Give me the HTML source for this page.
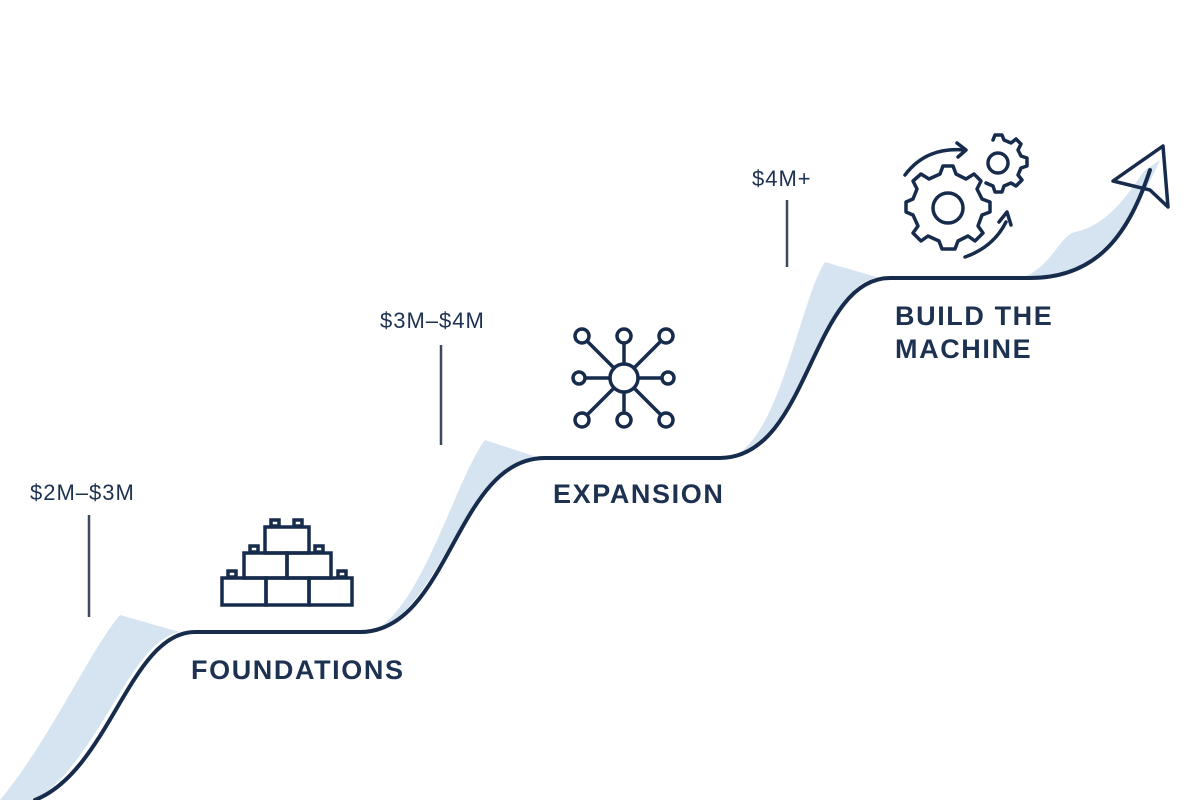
<!DOCTYPE html>
<html><head><meta charset="utf-8"><style>
html,body{margin:0;padding:0;background:#fff;}
svg{display:block}
text{font-family:"Liberation Sans",sans-serif;fill:#1d3150}
</style></head><body>
<svg width="1200" height="800" viewBox="0 0 1200 800" xmlns="http://www.w3.org/2000/svg">
<rect width="1200" height="800" fill="#fff"/>
<g fill="#d6e4f1">
<path d="M0,800 C50,740 90,650 120,615 L180,632 C130,640 100,760 35,800 Z"/>
<path d="M370,632 C420,615 455,480 485,440 L540,458 C460,458 440,632 360,632 Z"/>
<path d="M730,458 C780,440 800,300 825,262 L880,278 C820,278 800,458 720,458 Z"/>
<path d="M1020,278 C1050,270 1060,235 1075,232 C1110,225 1130,190 1145,170 L1160,160 C1135,215 1100,278 1030,278 Z"/>
</g>
<g fill="none" stroke="#172c4c" stroke-width="4" stroke-linecap="round" stroke-linejoin="round">
<path d="M35,800 C110,770 130,632 195,632 L360,632 C450,632 455,458 545,458 L720,458 C810,458 810,278 890,278 L1030,278 C1100,278 1130,230 1150,170"/>
<path d="M1113,181 L1163,146 L1168,207 L1150,190 Z" stroke-width="3.5"/>
</g>
<g stroke="#3b4a60" stroke-width="2.5">
<line x1="89" y1="515" x2="89" y2="617"/>
<line x1="441" y1="345" x2="441" y2="445"/>
<line x1="787" y1="200" x2="787" y2="267"/>
</g>
<g font-size="22" letter-spacing="1">
<text x="30" y="500">$2M–$3M</text>
<text x="380" y="328">$3M–$4M</text>
<text x="752" y="186">$4M+</text>
</g>
<g font-weight="bold" font-size="27" letter-spacing="1.6">
<text x="191" y="679">FOUNDATIONS</text>
<text x="553" y="503">EXPANSION</text>
<text x="895" y="325">BUILD THE</text>
<text x="895" y="358">MACHINE</text>
</g>
<!-- blocks -->
<g fill="none" stroke="#172c4c" stroke-width="3.5">
<rect x="222" y="578" width="44" height="27"/><rect x="266" y="578" width="43" height="27"/><rect x="309" y="578" width="43" height="27"/>
<rect x="244" y="553" width="43" height="25"/><rect x="287" y="553" width="44" height="25"/>
<rect x="265" y="527" width="44" height="26"/>
<rect x="271" y="520" width="8" height="6"/><rect x="294" y="520" width="8" height="6"/>
<rect x="250" y="546" width="8" height="6"/><rect x="315" y="546" width="8" height="6"/>
<rect x="228" y="571" width="8" height="6"/><rect x="338" y="571" width="8" height="6"/>
</g>
<!-- network -->
<g fill="none" stroke="#172c4c" stroke-width="3.5">
<circle cx="624" cy="378" r="14"/>
<line x1="614" y1="368" x2="587" y2="341"/><line x1="624" y1="364" x2="624" y2="343"/><line x1="634" y1="368" x2="661" y2="341"/>
<line x1="610" y1="378" x2="586" y2="378"/><line x1="638" y1="378" x2="661" y2="378"/>
<line x1="614" y1="388" x2="587" y2="415"/><line x1="624" y1="392" x2="624" y2="413"/><line x1="634" y1="388" x2="661" y2="415"/>
<circle cx="582" cy="336" r="7"/><circle cx="624" cy="336" r="7"/><circle cx="666" cy="336" r="7"/>
<circle cx="579" cy="378" r="6"/><circle cx="668" cy="378" r="6"/>
<circle cx="582" cy="420" r="7"/><circle cx="624" cy="420" r="7"/><circle cx="666" cy="420" r="7"/>
</g>
<!-- gears -->
<g fill="none" stroke="#172c4c" stroke-width="3.5" stroke-linejoin="round" stroke-linecap="round">
<circle cx="948" cy="208" r="15"/>
<path d="M940,174 L943,166 L953,166 L956,174 L966,179 L974,174 L981,181 L977,189 L982,199 L990,202 L990,212 L982,215 L978,226 L983,233 L975,241 L968,236 L958,241 L955,249 L942,249 L939,241 L928,236 L921,241 L913,233 L918,226 L913,215 L906,212 L906,202 L913,199 L917,189 L913,181 L921,174 L929,179 Z"/>
<circle cx="998" cy="163" r="10"/>
<path d="M993,140 L995,135 L1002,135 L1004,140 L1011,143 L1016,139 L1021,144 L1018,150 L1021,156 L1027,158 L1027,166 L1021,168 L1018,175 L1022,180 L1016,186 L1011,183 L1004,186 L1002,192 L995,192 L993,186 L986,183"/>
<path d="M905,175 C920,155 940,148 965,150"/><path d="M957,143 L966,150 L958,157"/>
<path d="M965,257 C985,250 998,238 1006,222"/><path d="M999,222 L1007,212 L1011,225"/>
</g>
</svg>
</body></html>
